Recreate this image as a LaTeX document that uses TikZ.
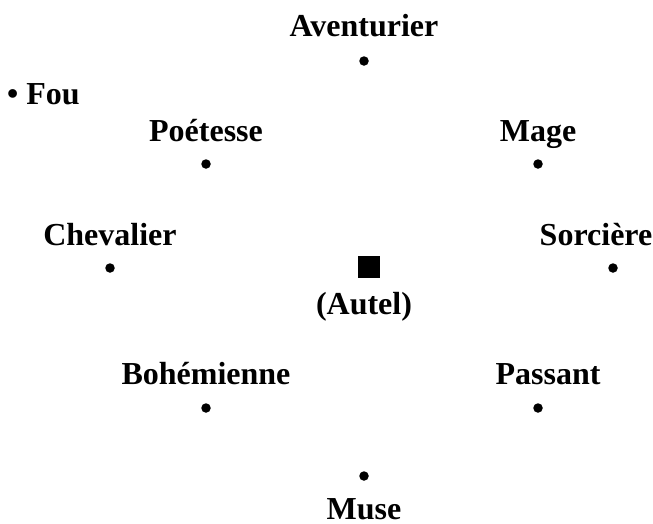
\documentclass[tikz,border=0pt]{standalone}
\usepackage{fontspec}
\setmainfont{Liberation Serif}
\begin{document}
\begin{tikzpicture}[x=1pt,y=-1pt,
  lbl/.style={anchor=base,inner sep=0pt,font=\fontsize{32}{32}\selectfont\bfseries},
  pt/.style={circle,fill=black,inner sep=0pt,minimum size=9.5pt},
  altar/.style={rectangle,fill=black,inner sep=0pt,minimum size=22pt}]
\useasboundingbox (0,0) rectangle (653,523);
\node[lbl] (tAv) at (364,36) {Aventurier};
\node[pt] (pAv) at (364,61) {};
\node[lbl,anchor=base west] (tFou) at (7,104) {• Fou};
\node[lbl] (tPo) at (206,141) {Poétesse};
\node[pt] (pPo) at (206,164) {};
\node[lbl] (tMa) at (538,141) {Mage};
\node[pt] (pMa) at (538,164) {};
\node[lbl] (tCh) at (110,245) {Chevalier};
\node[pt] (pCh) at (110,268) {};
\node[lbl] (tSo) at (596,245) {Sorcière};
\node[pt] (pSo) at (613,268) {};
\node[altar] (alt) at (369,267) {};
\node[lbl] (tAu) at (364,314) {(Autel)};
\node[lbl] (tBo) at (206,384) {Bohémienne};
\node[pt] (pBo) at (206,408) {};
\node[lbl] (tPa) at (548,384) {Passant};
\node[pt] (pPa) at (538,408) {};
\node[pt] (pMu) at (364,476) {};
\node[lbl] (tMu) at (364,519) {Muse};
\end{tikzpicture}
\end{document}
